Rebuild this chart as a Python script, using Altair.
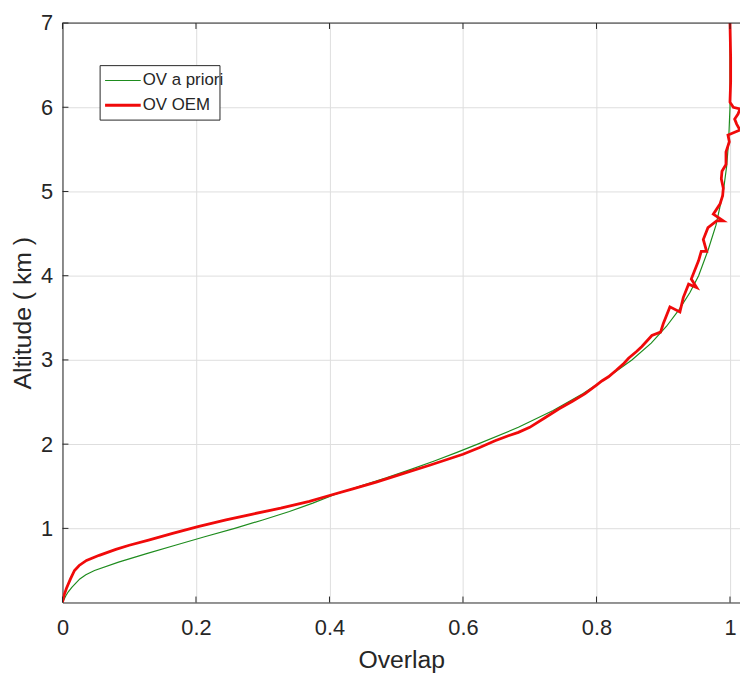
import altair as alt
import pandas as pd

# ---- data ----
apriori_alt = [0.12, 0.15, 0.2, 0.25, 0.3, 0.35, 0.4, 0.45, 0.5, 0.6, 0.7, 0.8, 0.9, 1.0, 1.1,
               1.2, 1.3, 1.4, 1.5, 1.6, 1.7, 1.8, 1.9, 2.0, 2.2, 2.4, 2.6, 2.8, 3.0, 3.2,
               3.4, 3.6, 3.8, 4.0, 4.3, 4.6, 5.0, 5.3, 5.6, 6.0, 6.5, 7.0]
apriori_ov = [0.0, 0.002, 0.005, 0.009, 0.014, 0.02, 0.026, 0.035, 0.048, 0.084, 0.126,
              0.169, 0.213, 0.258, 0.30, 0.34, 0.375, 0.407, 0.445, 0.485, 0.522, 0.557,
              0.59, 0.622, 0.683, 0.735, 0.78, 0.818, 0.853, 0.882, 0.905, 0.924, 0.94,
              0.953, 0.967, 0.979, 0.99, 0.995, 0.998, 1.0, 1.0, 1.0]

oem_alt = [0.12, 0.2, 0.29, 0.4, 0.5, 0.56, 0.62, 0.68, 0.75, 0.8, 0.86, 0.94, 1.02, 1.1,
           1.17, 1.24, 1.32, 1.39, 1.47, 1.55, 1.65, 1.75, 1.88, 1.96, 2.04, 2.1, 2.14,
           2.2, 2.32, 2.42, 2.51, 2.6, 2.7, 2.75, 2.8, 2.88, 2.95, 3.02, 3.1, 3.16, 3.29,
           3.33, 3.43, 3.63, 3.57, 3.74, 3.9, 3.86, 3.96, 4.18, 4.29, 4.29, 4.43, 4.57,
           4.65, 4.65, 4.73, 4.85, 4.95, 5.04, 5.15, 5.24, 5.32, 5.47, 5.59, 5.67, 5.73,
           5.8, 5.86, 5.92, 5.98, 6.0, 6.06, 6.3, 6.6, 7.0]
oem_ov = [0.0, 0.002, 0.006, 0.012, 0.018, 0.025, 0.036, 0.055, 0.08, 0.1, 0.129, 0.165,
          0.203, 0.245, 0.285, 0.327, 0.37, 0.40, 0.435, 0.47, 0.51, 0.55, 0.6, 0.625,
          0.648, 0.668, 0.683, 0.70, 0.724, 0.744, 0.764, 0.783, 0.80, 0.808, 0.818,
          0.83, 0.84, 0.848, 0.86, 0.868, 0.883, 0.896, 0.90, 0.91, 0.925, 0.93, 0.938,
          0.95, 0.942, 0.953, 0.957, 0.965, 0.96, 0.967, 0.98, 0.99, 0.975, 0.985,
          0.989, 0.99, 0.987, 0.988, 0.994, 0.994, 0.999, 0.997, 1.015, 1.01, 1.007,
          1.012, 1.015, 1.005, 1.0, 1.001, 1.001, 1.0]

series_names = ["OV a priori", "OV OEM"]
series_colors = ["#1e8c1e", "#f00a0a"]
x_ticks = [0, 0.2, 0.4, 0.6, 0.8, 1.0]
y_ticks = [1, 2, 3, 4, 5, 6, 7]
x_domain = [0, 1.015]
y_domain = [0.12, 7]

W, H = 684, 585
FONT = "Liberation Sans"
TXT = "#262626"

df_a = pd.DataFrame({"ov": apriori_ov, "alt": apriori_alt, "i": range(len(apriori_ov))})
df_a["series"] = series_names[0]
df_o = pd.DataFrame({"ov": oem_ov, "alt": oem_alt, "i": range(len(oem_ov))})
df_o["series"] = series_names[1]

xs = alt.Scale(domain=x_domain, nice=False, zero=False)
ys = alt.Scale(domain=y_domain, nice=False, zero=False)

x_enc = alt.X("ov:Q", scale=xs, title="Overlap",
              axis=alt.Axis(values=x_ticks, format="~g", tickSize=0, labelPadding=15,
                            titlePadding=10, labelFlush=False))
y_enc = alt.Y("alt:Q", scale=ys, title="Altitude ( km )",
              axis=alt.Axis(values=y_ticks, format="d", tickSize=0, labelPadding=10,
                            titlePadding=5, labelFlush=False))

line_a = alt.Chart(df_a).mark_line(color=series_colors[0], strokeWidth=1.2, clip=True).encode(
    x=x_enc, y=y_enc, order="i:Q")
line_o = alt.Chart(df_o).mark_line(color=series_colors[1], strokeWidth=2.8, clip=True).encode(
    x=alt.X("ov:Q", scale=xs), y=alt.Y("alt:Q", scale=ys), order="i:Q")

# inward ticks (MATLAB style)
dxt = pd.DataFrame({"t": x_ticks})
dyt = pd.DataFrame({"t": y_ticks})
tk = dict(color=TXT, strokeWidth=1)
xt_bot = alt.Chart(dxt).mark_rule(**tk).encode(x=alt.X("t:Q", scale=xs), y=alt.value(H), y2=alt.value(H - 6))
xt_top = alt.Chart(dxt).mark_rule(**tk).encode(x=alt.X("t:Q", scale=xs), y=alt.value(0), y2=alt.value(6))
yt_left = alt.Chart(dyt).mark_rule(**tk).encode(y=alt.Y("t:Q", scale=ys), x=alt.value(0), x2=alt.value(6))
top_border = alt.Chart(pd.DataFrame({"a": [0]})).mark_rule(color=TXT, strokeWidth=1).encode(
    x=alt.value(0), x2=alt.value(W), y=alt.value(0))

# legend box drawn manually
one = pd.DataFrame({"a": [0]})
box = alt.Chart(one).mark_rect(fill="white", stroke=TXT, strokeWidth=1).encode(
    x=alt.value(38), x2=alt.value(159), y=alt.value(43), y2=alt.value(98))
leg_layers = [box]
for k, (nm, col, sw) in enumerate(zip(series_names, series_colors, [1.2, 2.8])):
    yy = 58 + 25 * k
    leg_layers.append(alt.Chart(one).mark_rule(color=col, strokeWidth=sw).encode(
        x=alt.value(43), x2=alt.value(79), y=alt.value(yy)))
    leg_layers.append(alt.Chart(pd.DataFrame({"lab": [nm]})).mark_text(
        align="left", baseline="middle", font=FONT, fontSize=17, color=TXT).encode(
        x=alt.value(81), y=alt.value(yy), text="lab:N"))

chart = alt.layer(line_a, line_o, xt_bot, xt_top, yt_left, top_border, *leg_layers).properties(
    width=W, height=H,
    autosize=alt.AutoSizeParams(type="none"),
    padding={"left": 55, "top": 12, "right": 0, "bottom": 68},
    background="white",
).configure_view(stroke=None).configure_axis(
    labelFont=FONT, titleFont=FONT, labelFontSize=22, titleFontSize=25,
    labelColor=TXT, titleColor=TXT, titleFontWeight="normal",
    domainColor=TXT, domainWidth=1, gridColor="#dedede", gridWidth=1,
)

chart.save("out.html", embed_options={"renderer": "svg", "actions": False})
